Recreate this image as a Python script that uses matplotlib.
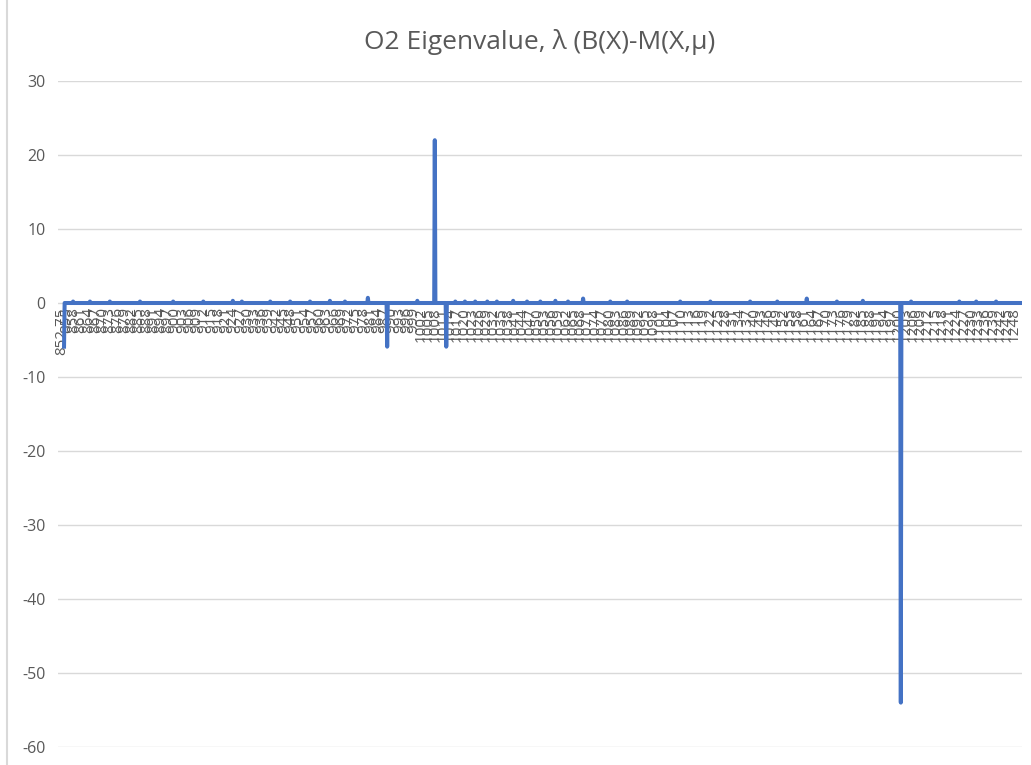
import numpy as np
import matplotlib
matplotlib.use("Agg")
import matplotlib.pyplot as plt
from matplotlib.lines import Line2D

# ---- data ----
title = "O2 Eigenvalue, λ (B(X)-M(X,μ)"
wl_start, wl_stop, wl_step = 852.75, 1250.0, 0.25      # sampled wavelengths
tick_labels = ["852.75"] + [str(v) for v in range(855, 1249, 3)]   # shown category labels
y_ticks = [-60, -50, -40, -30, -20, -10, 0, 10, 20, 30]

# large excursions (wavelength, value)
spike_wl = [852.75, 986.75, 1006.5, 1011.25, 1199.75]
spike_val = [-5.9, -5.9, 22.0, -5.9, -54.0]

# small bumps along the baseline (wavelength, value)
bump_wl = [856.5, 863.5, 871.75, 884.25, 898.0, 910.5, 922.75, 926.5, 938.25,
           946.5, 954.75, 963.0, 969.25, 978.75, 999.25, 1015.0, 1019.0, 1023.25,
           1028.25, 1032.25, 1039.0, 1044.75, 1050.25, 1056.5, 1061.75, 1068.0,
           1079.25, 1086.25, 1108.25, 1120.75, 1137.25, 1148.5, 1160.75, 1173.25,
           1184.0, 1204.0, 1224.0, 1231.0, 1239.25]
bump_val = [0.2, 0.2, 0.2, 0.2, 0.2, 0.2, 0.3, 0.2, 0.2,
            0.2, 0.2, 0.3, 0.2, 0.7, 0.3, 0.2, 0.2, 0.2,
            0.2, 0.2, 0.3, 0.2, 0.2, 0.3, 0.2, 0.6,
            0.2, 0.2, 0.2, 0.2, 0.2, 0.2, 0.6, 0.2,
            0.3, 0.2, 0.2, 0.2, 0.2]

# ---- build series ----
wavelengths = np.round(np.arange(wl_start, wl_stop + wl_step / 2, wl_step), 2)
values = np.zeros(len(wavelengths))
for w, v in list(zip(bump_wl, bump_val)) + list(zip(spike_wl, spike_val)):
    idx = int(np.argmin(np.abs(wavelengths - w)))
    values[idx] = v
tick_pos = [float(t) for t in tick_labels]

# ---- figure ----
plt.rcParams['font.family'] = ['Open Sans', 'DejaVu Sans']
fig = plt.figure(figsize=(10.31, 7.65), dpi=100)
ax = fig.add_axes([58 / 1031, 1 - 747 / 765, (1022 - 58) / 1031, (747 - 81) / 765])

grid_c = '#d9d9d9'
text_c = '#595959'
line_c = '#4472C4'

ax.set_ylim(-60, 30)
ax.set_xlim(850.25, 1250.0)
ax.set_yticks(y_ticks)
ax.set_yticklabels([str(t) for t in y_ticks], color=text_c, fontsize=11.5)
ax.tick_params(axis='y', length=0, pad=9)
ax.set_xticks([])
for s in ax.spines.values():
    s.set_visible(False)
for t in y_ticks:
    ax.axhline(t, color=grid_c, lw=1.0, zorder=0)

# category labels at the zero-crossing horizontal axis
for p, lab in zip(tick_pos, tick_labels):
    ax.annotate(lab, xy=(p, 0), xytext=(-2, -3),
                textcoords='offset points', rotation=90, ha='center', va='top',
                fontsize=11, color=text_c, zorder=1)

ax.plot(wavelengths, values, color=line_c, lw=2.9, solid_joinstyle='round', zorder=3)

fig.text(540 / 1031, 1 - 42 / 765, title, ha='center', va='center',
         fontsize=19, color=text_c)

# chart border on the left
fig.add_artist(Line2D([7 / 1031, 7 / 1031], [0, 1], transform=fig.transFigure,
                      color='#d9d9d9', lw=1.5))

fig.savefig('out.png', dpi=100)
